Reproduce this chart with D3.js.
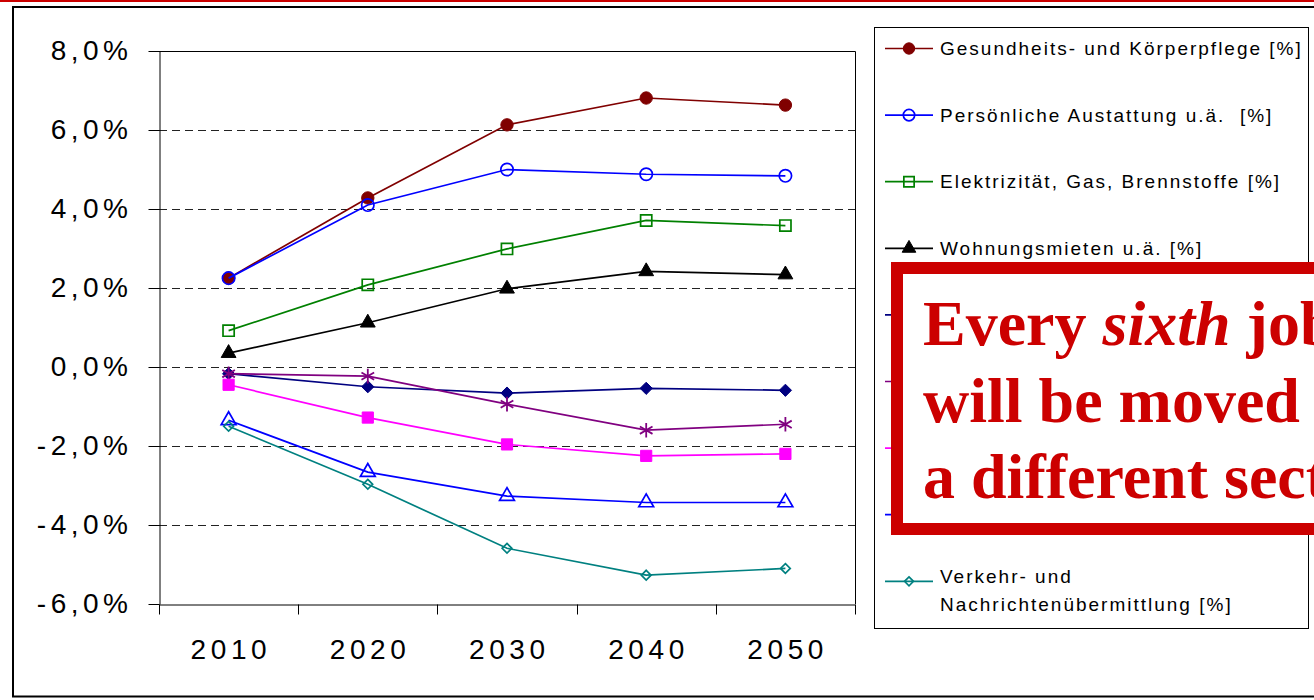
<!DOCTYPE html>
<html><head><meta charset="utf-8">
<script src="https://cdn.jsdelivr.net/npm/d3@7"></script>
<style>
body{margin:0;background:#fff;overflow:hidden;}
svg{display:block;font-family:"Liberation Sans",Arial,sans-serif;}
</style>
</head><body>
<svg id="chart" width="1314" height="700"></svg>
<script>
// ---------- data ----------
const years = ["2010", "2020", "2030", "2040", "2050"];
const yTicks = [-6, -4, -2, 0, 2, 4, 6, 8];

const gesundheit     = [2.25, 4.28, 6.13, 6.81, 6.63];
const persoenlich    = [2.25, 4.10, 5.00, 4.88, 4.84];
const elektrizitaet  = [0.92, 2.08, 2.99, 3.71, 3.58];
const wohnungsmieten = [0.35, 1.12, 1.98, 2.42, 2.34];
const nahrungsmittel = [-0.17, -0.50, -0.66, -0.54, -0.59];
const freizeit       = [-0.17, -0.23, -0.94, -1.60, -1.45];
const bekleidung     = [-0.45, -1.28, -1.96, -2.25, -2.20];
const einrichtung    = [-1.35, -2.66, -3.27, -3.43, -3.43];
const verkehr        = [-1.50, -2.97, -4.59, -5.27, -5.10];

const seriesNames = [
  ["Gesundheits- und Körperpflege [%]"],
  ["Persönliche Austattung u.ä.  [%]"],
  ["Elektrizität, Gas, Brennstoffe [%]"],
  ["Wohnungsmieten u.ä. [%]"],
  ["Nahrungsmittel, Getränke [%]"],
  ["Bildung, Freizeit [%]"],
  ["Bekleidung und Schuhe [%]"],
  ["Einrichtung u.ä. [%]"],
  ["Verkehr- und", "Nachrichtenübermittlung [%]"]
];
const seriesValues = [gesundheit, persoenlich, elektrizitaet, wohnungsmieten,
  nahrungsmittel, freizeit, bekleidung, einrichtung, verkehr];
const seriesColors = ["#800000", "#0000FF", "#008000", "#000000",
  "#000080", "#800080", "#FF00FF", "#0000FF", "#008080"];
const seriesMarkers = ["circle", "circle", "square", "triangle",
  "diamond", "asterisk", "square", "triangle", "diamondOpen"];
const seriesFilled = [true, false, false, true, true, false, true, false, false];

const headline = [
  [{t: "Every ", i: false}, {t: "sixth", i: true}, {t: " job", i: false}],
  [{t: "will be moved", i: false}],
  [{t: "a different sector", i: false}]
];

// ---------- drawing ----------
const svg = d3.select("#chart");
const W = 1314, H = 700;
const plot = {l: 159, r: 855, t: 51, b: 604};

// top red rule + outer frame
svg.append("rect").attr("x", 0).attr("y", 0).attr("width", W).attr("height", 2).attr("fill", "#CC0000");
svg.append("rect").attr("x", 13).attr("y", 7).attr("width", 1400).attr("height", 689.5)
  .attr("fill", "none").attr("stroke", "#000").attr("stroke-width", 2);

const x = d3.scaleBand().domain(years).range([plot.l, plot.r]);
const y = d3.scaleLinear().domain([-6, 8]).range([plot.b, plot.t]);

// gridlines
svg.append("g").selectAll("line")
  .data(yTicks.filter(d => d > -6 && d < 8))
  .join("line")
  .attr("x1", plot.l).attr("x2", plot.r)
  .attr("y1", d => Math.round(y(d)) + 0.5).attr("y2", d => Math.round(y(d)) + 0.5)
  .attr("stroke", "#222").attr("stroke-width", 1).attr("stroke-dasharray", "8,5");

// plot border (top & right)
svg.append("path")
  .attr("d", `M${plot.l},${plot.t + 0.5}H${plot.r + 0.5}V${plot.b}`)
  .attr("fill", "none").attr("stroke", "#000").attr("stroke-width", 1);

const fmt = d => (d < 0 ? "-" : "") + Math.abs(d).toFixed(1).replace(".", ",") + "%";

// y axis
const yAxis = svg.append("g").attr("transform", `translate(${plot.l + 0.5},0)`)
  .call(d3.axisLeft(y).tickValues(yTicks).tickFormat(fmt).tickSize(11).tickPadding(16).tickSizeOuter(0));
yAxis.selectAll("text").attr("font-size", 28).attr("letter-spacing", "4.5px")
  .attr("fill", "#000").attr("font-family", "'Liberation Sans',Arial,sans-serif");
yAxis.select(".domain").attr("stroke", "#000");

// x axis
const xAxis = svg.append("g").attr("transform", `translate(0,${plot.b + 0.5})`)
  .call(d3.axisBottom(x).tickSize(0).tickPadding(35).tickSizeOuter(0));
xAxis.select(".domain").attr("stroke", "#000");
xAxis.selectAll("text").attr("font-size", 28).attr("letter-spacing", "4.6px").attr("dx", "2.3px")
  .attr("fill", "#000").attr("font-family", "'Liberation Sans',Arial,sans-serif");
// category boundary ticks
const bounds = d3.range(years.length + 1).map(i => x.range()[0] + i * x.step());
xAxis.selectAll("line.bt").data(bounds).join("line").attr("class", "bt")
  .attr("x1", d => Math.round(d) + 0.5).attr("x2", d => Math.round(d) + 0.5)
  .attr("y1", 0).attr("y2", 10).attr("stroke", "#000");

// markers
const symType = {circle: d3.symbolCircle, square: d3.symbolSquare, triangle: d3.symbolTriangle,
  diamond: d3.symbolDiamond2, diamondOpen: d3.symbolDiamond2, asterisk: d3.symbolAsterisk};
const symSize = {circle: 120, square: 125, triangle: 95, diamond: 95, diamondOpen: 60, asterisk: 150};
function drawMarker(g, type, filled, color, cx, cy, scale) {
  const s = scale || 1;
  const p = d3.symbol().type(symType[type]).size(symSize[type] * s)();
  const el = g.append("path").attr("d", p).attr("transform", `translate(${cx},${cy})`);
  if (type === "asterisk") {
    el.attr("fill", "none").attr("stroke", color).attr("stroke-width", 1.8);
  } else if (filled) {
    el.attr("fill", color).attr("stroke", color).attr("stroke-width", 1);
  } else {
    el.attr("fill", "none").attr("stroke", color).attr("stroke-width", 1.7);
  }
}

const line = d3.line().x((d, i) => x(years[i]) + x.bandwidth() / 2).y(d => y(d));
const series = svg.append("g");
seriesValues.forEach((vals, k) => {
  const g = series.append("g");
  g.append("path").datum(vals).attr("d", line).attr("fill", "none")
    .attr("stroke", seriesColors[k]).attr("stroke-width", 1.7);
  vals.forEach((v, i) => drawMarker(g, seriesMarkers[k], seriesFilled[k], seriesColors[k],
    x(years[i]) + x.bandwidth() / 2, y(v)));
});

// legend
const leg = svg.append("g");
leg.append("rect").attr("x", 874.5).attr("y", 27.5).attr("width", 434).attr("height", 601)
  .attr("fill", "#fff").attr("stroke", "#000").attr("stroke-width", 1);
seriesNames.forEach((lines, k) => {
  const cy = 48.5 + k * 66.6;
  const g = leg.append("g");
  g.append("line").attr("x1", 885).attr("x2", 933).attr("y1", cy).attr("y2", cy)
    .attr("stroke", seriesColors[k]).attr("stroke-width", 1.7);
  drawMarker(g, seriesMarkers[k], seriesFilled[k], seriesColors[k], 909, cy, 0.85);
  const t = g.append("text").attr("x", 940).attr("font-size", 19).attr("letter-spacing", "2px")
    .attr("fill", "#000").style("white-space", "pre");
  const y0 = lines.length === 1 ? cy + 6.5 : cy + 2;
  lines.forEach((ln, j) => t.append("tspan").attr("x", 940).attr("y", y0 + j * 28).text(ln));
});

// overlay message box
const box = svg.append("g");
box.append("rect").attr("x", 897).attr("y", 268).attr("width", 600).attr("height", 261)
  .attr("fill", "#fff").attr("stroke", "#CC0000").attr("stroke-width", 12);
headline.forEach((parts, j) => {
  const t = box.append("text").attr("x", 923).attr("y", 345 + j * 76.5)
    .attr("font-family", "'Liberation Serif','Times New Roman',serif")
    .attr("font-weight", "bold").attr("font-size", 64).attr("fill", "#CC0000")
    .style("white-space", "pre");
  parts.forEach(p => t.append("tspan").attr("font-style", p.i ? "italic" : "normal").text(p.t));
});
</script>
</body></html>
